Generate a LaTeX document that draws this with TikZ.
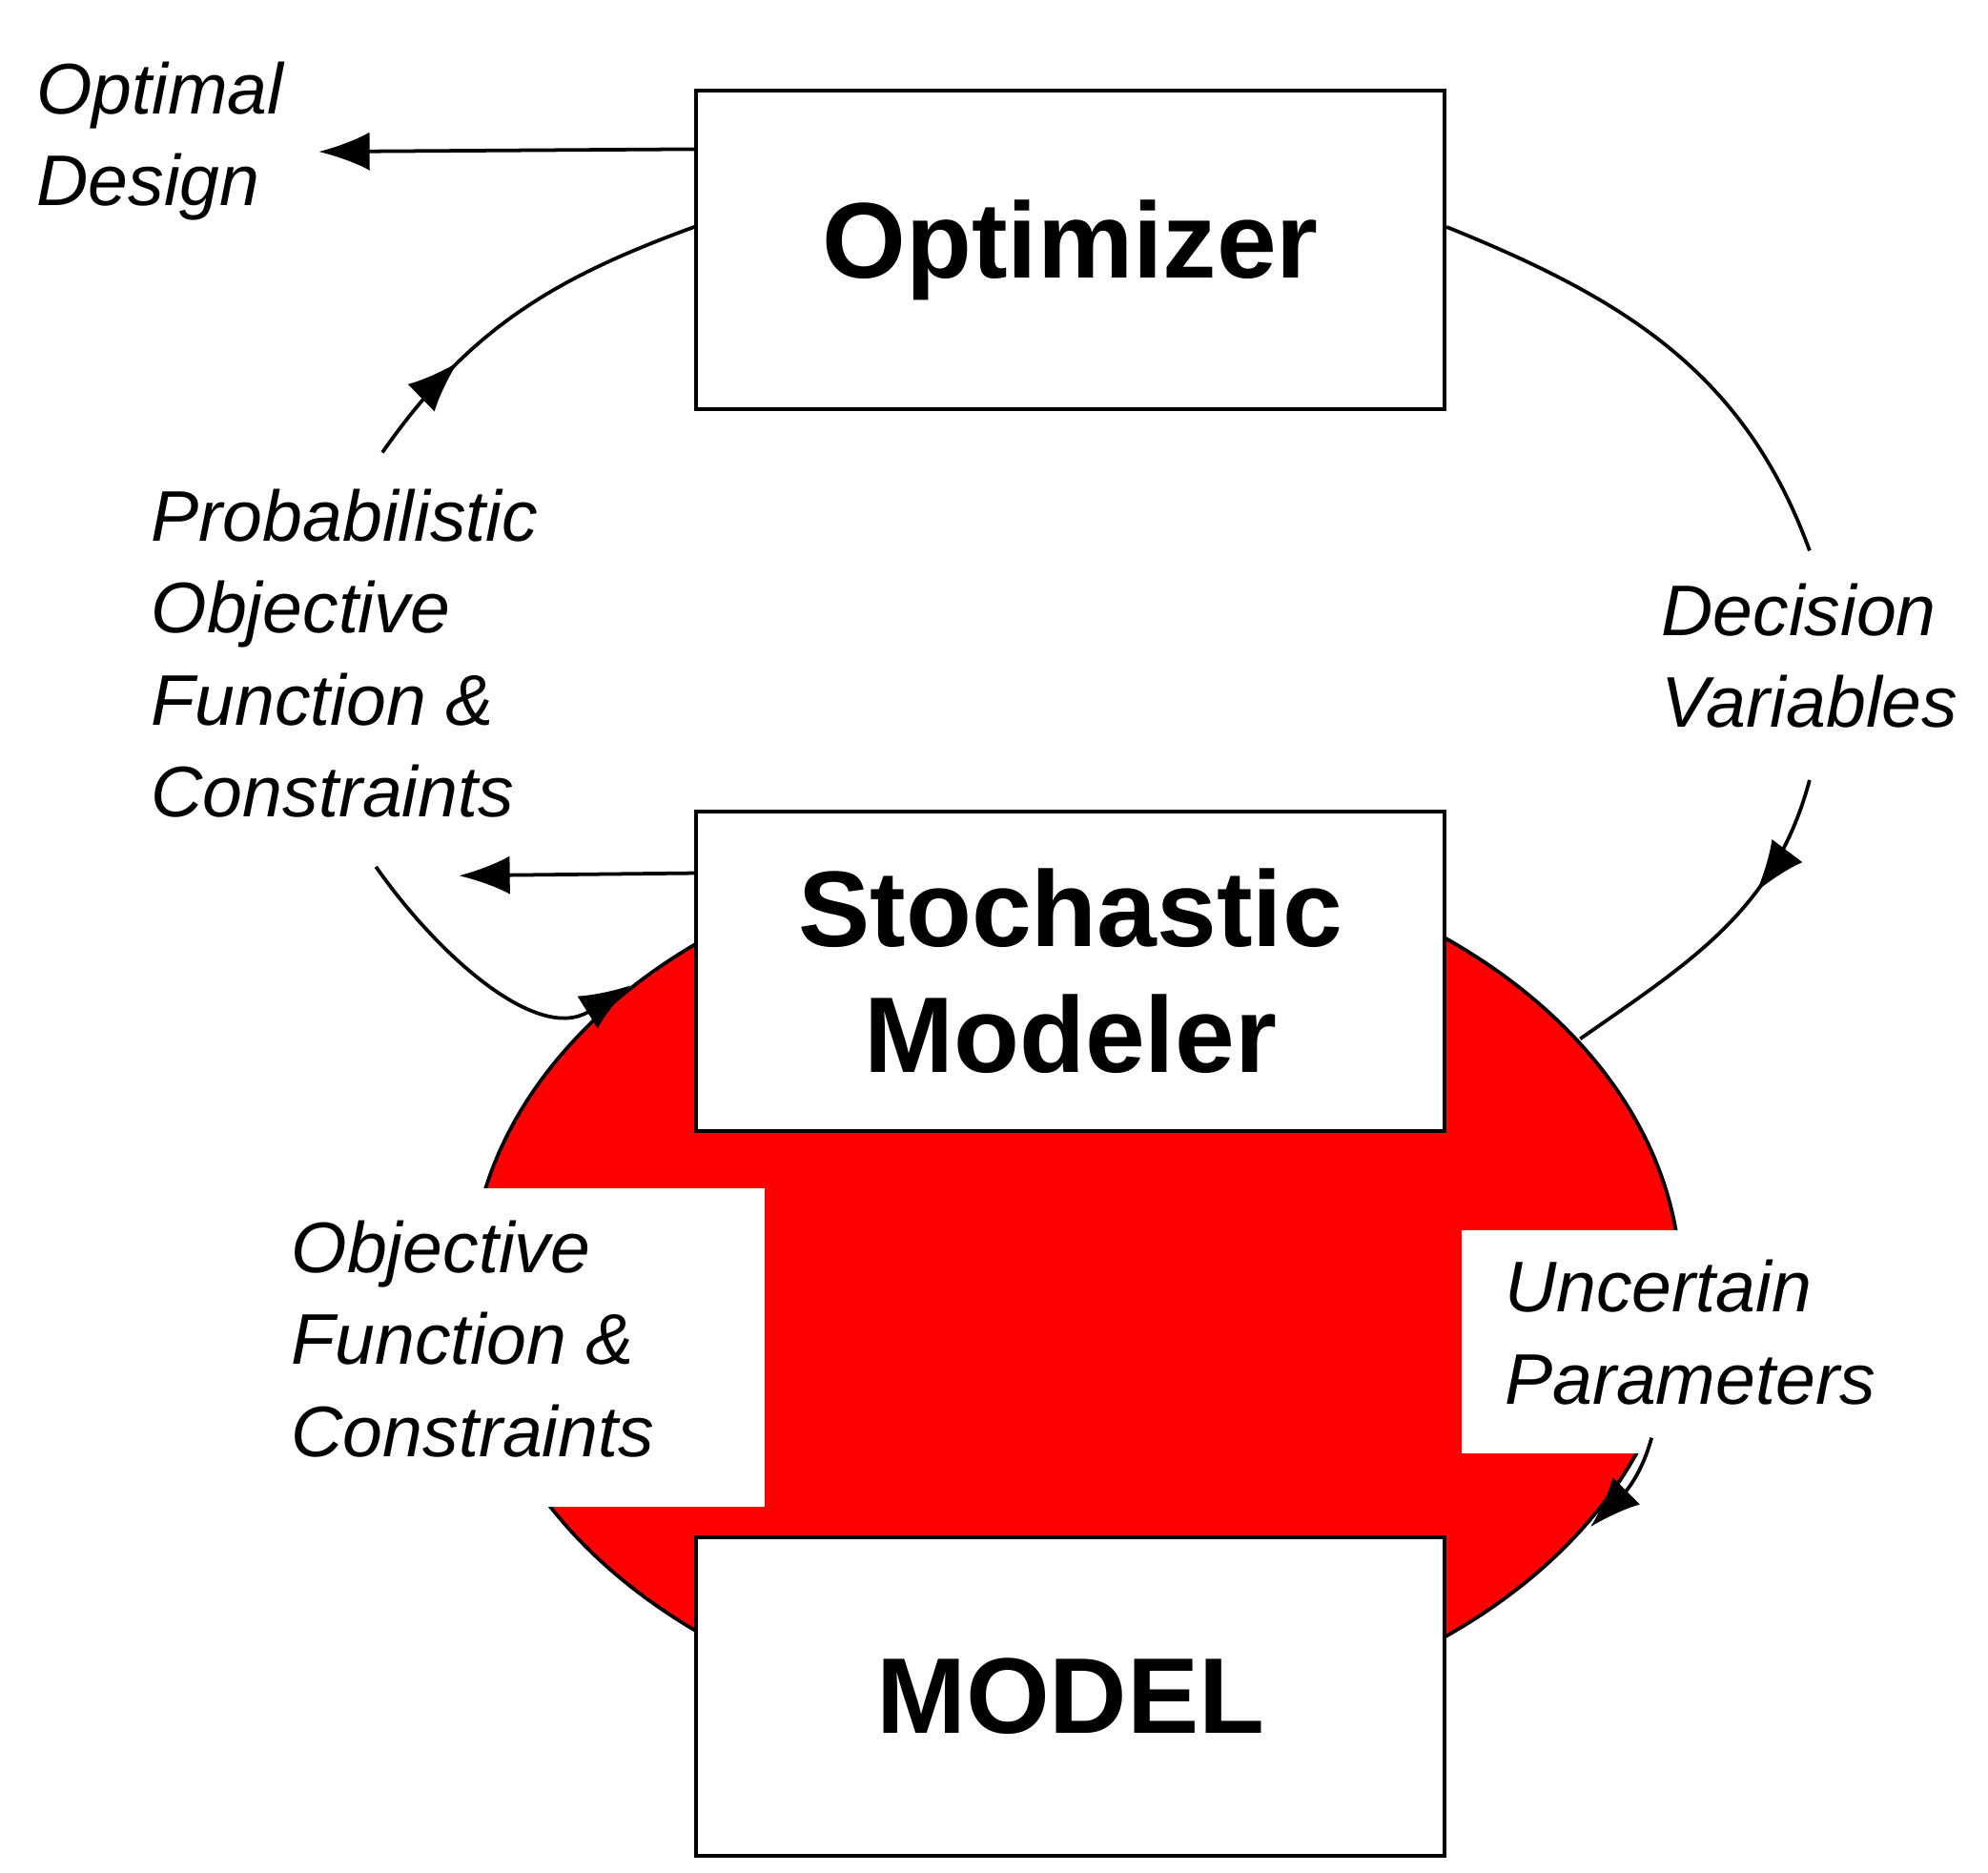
\documentclass[tikz,border=0pt]{standalone}
\usepackage{fontspec}
\setmainfont{Liberation Sans}
\usetikzlibrary{positioning, arrows.meta, decorations.markings}

\begin{document}
\begin{tikzpicture}[x=0.01cm, y=-0.01cm,
   box/.style = {draw, thick, fill=white, minimum width=5.87cm, minimum height=2.5cm,
                 font=\fontsize{24}{28}\selectfont\bfseries, align=center},
   lbl/.style = {font=\fontsize{16}{20.5}\selectfont\itshape, align=left, anchor=north west, inner sep=0pt},
   arrow/.style = {thick, -{Latex[length=4mm,width=3mm]}},
   midarrow/.style = {thick, decoration={markings, mark=at position #1 with {\arrow{Latex[length=4mm,width=3mm]}}}, postaction=decorate}
                        ]
\useasboundingbox (0,0) rectangle (1560,1469);
% red region behind the lower boxes
\draw[thick, fill=red] (844,1010) ellipse [x radius=475, y radius=346];
\fill[white] (300,932) rectangle (600,1182);
\fill[white] (1147,965) rectangle (1330,1140);
\draw[arrow] (1296,1128) to[out=-105,in=45] (1248,1198);
% boxes
\node (opt) [box] at (840,196) {Optimizer};
\node (stoch) [box] at (840,762) {Stochastic\\Modeler};
\node (model) [box] at (840,1331) {MODEL};
% labels
\node (design) [lbl] at (28,48) {Optimal\\Design};
\node (prob) [lbl] at (118,383) {Probabilistic\\Objective\\Function \&\\Constraints};
\node (dec) [lbl] at (1303,457) {Decision\\Variables};
\node (obj) [lbl] at (228,957) {Objective\\Function \&\\Constraints};
\node (unc) [lbl] at (1180,988) {Uncertain\\Parameters};
% connectors
\coordinate (dE) at (250,119);
\coordinate (pE) at (360,687);
\draw[arrow] (opt.west |- 0,117) -- (dE);
\draw[arrow] (stoch.west |- 0,685) -- (pE);
\coordinate (p1) at (300,355);
\coordinate (p2) at (295,680);
\coordinate (p3) at (495,773);
\coordinate (d1) at (1420,432);
\coordinate (d2) at (1420,612);
\coordinate (d3) at (1240,815);
\draw[midarrow=0.3] (p1) to[out=-55+110,in=200] (opt.west |- 0,178);
\draw[arrow] (p2) to[out=-55,in=212] (p3);
\draw[thick] (opt.east |- 0,178) to[out=-22,in=110] (d1);
\draw[midarrow=0.35] (d2) to[out=-105,in=35] (d3);
\end{tikzpicture}
\end{document}
